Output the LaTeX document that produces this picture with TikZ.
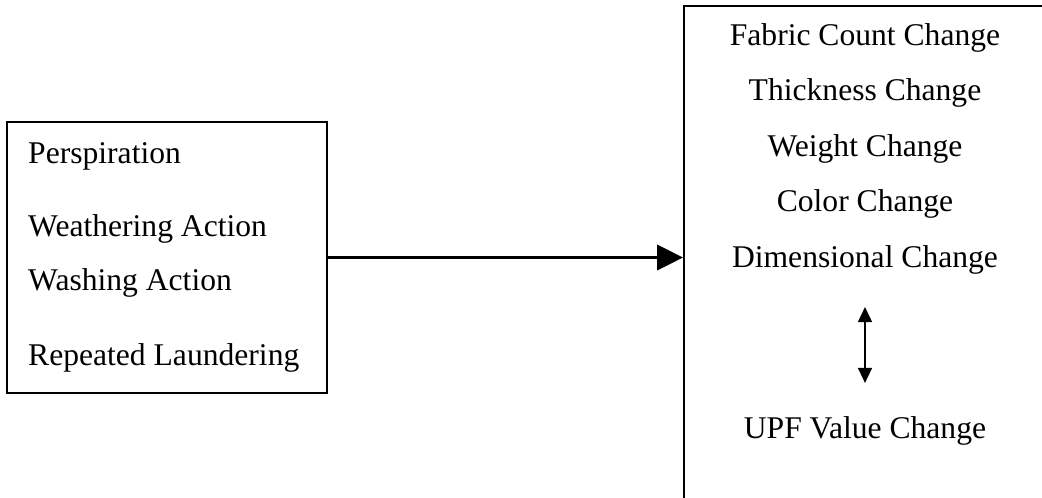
\documentclass[tikz,border=0pt]{standalone}
\usepackage{fontspec}
\setmainfont{Liberation Serif}
\usetikzlibrary{arrows.meta}
\begin{document}
\begin{tikzpicture}[x=1pt,y=-1pt,
  box/.style={draw, line width=1.8pt, rectangle, inner sep=0},
  lbl/.style={inner sep=0, font=\fontsize{31.6}{38}\selectfont},
  flow/.style={line width=3.5pt, -{Triangle[length=26pt,width=25pt]}},
  link/.style={line width=1.5pt, {Triangle[length=15pt,width=14pt]}-{Triangle[length=15pt,width=14pt]}}]
\useasboundingbox (0,0) rectangle (1042,498);
\clip (0,0) rectangle (1042,498);
\node[box, minimum width=320pt, minimum height=271pt] (inputs) at (167,257.5) {};
\node[box, minimum width=416pt, minimum height=554pt] (effects) at (892,283) {};
\node[lbl, anchor=base west] (persp) at (28,163) {Perspiration};
\node[lbl, anchor=base west] (weather) at (28,236) {Weathering Action};
\node[lbl, anchor=base west] (wash) at (28,290) {Washing Action};
\node[lbl, anchor=base west] (launder) at (28,365) {Repeated Laundering};
\node[lbl, anchor=base] (fabric) at (865,45) {Fabric Count Change};
\node[lbl, anchor=base] (thick) at (865,100.5) {Thickness Change};
\node[lbl, anchor=base] (weight) at (865,156) {Weight Change};
\node[lbl, anchor=base] (color) at (865,211.5) {Color Change};
\node[lbl, anchor=base] (dim) at (865,267) {Dimensional Change};
\node[lbl, anchor=base] (upf) at (865,438) {UPF Value Change};
\draw[flow] (inputs.east) -- (inputs.east -| effects.west);
\draw[link, shorten <=33pt, shorten >=33pt] (dim.south) -- (upf.north);
\end{tikzpicture}
\end{document}
